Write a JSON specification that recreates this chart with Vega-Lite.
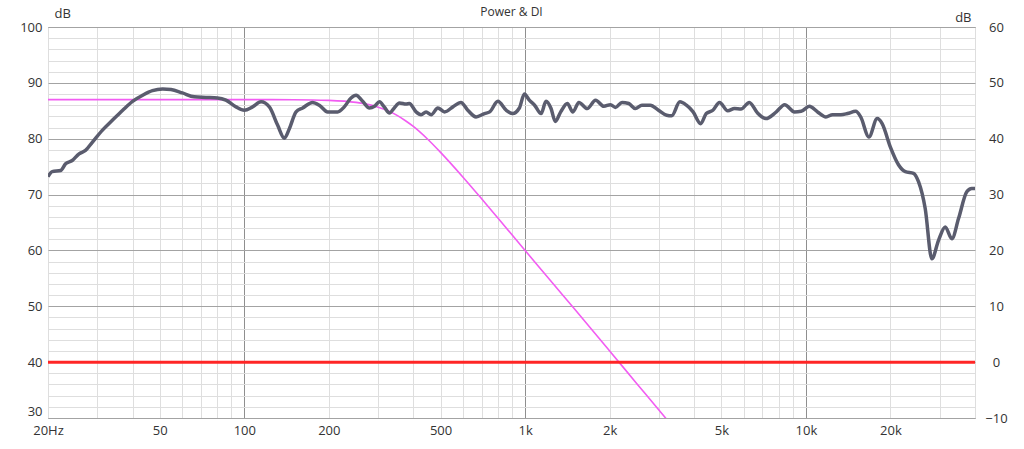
{
  "$schema": "https://vega.github.io/schema/vega-lite/v6.json",
  "width": 927,
  "height": 391,
  "autosize": {"type": "none"},
  "padding": {"left": 48, "top": 27, "right": 49, "bottom": 31},
  "background": "white",
  "title": {
    "text": "Power & DI",
    "anchor": "middle",
    "offset": -12,
    "fontSize": 12,
    "fontWeight": "normal",
    "font": "Open Sans",
    "color": "#333333"
  },
  "datasets": {
    "power": [
      {"f": 20, "db": 73.2}, {"f": 20.7, "db": 74.1}, {"f": 22.2, "db": 74.3}, {"f": 23.1, "db": 75.5},
      {"f": 24.4, "db": 76.1}, {"f": 25.8, "db": 77.3}, {"f": 27.2, "db": 77.9}, {"f": 28.8, "db": 79.4},
      {"f": 31.2, "db": 81.5}, {"f": 33.9, "db": 83.3}, {"f": 36.9, "db": 85.1}, {"f": 40, "db": 86.7},
      {"f": 43.5, "db": 87.8}, {"f": 47.1, "db": 88.6}, {"f": 51.2, "db": 88.9}, {"f": 54.8, "db": 88.8},
      {"f": 60.2, "db": 88.2}, {"f": 66.3, "db": 87.5}, {"f": 73, "db": 87.4}, {"f": 80.3, "db": 87.3},
      {"f": 86, "db": 86.9}, {"f": 93.4, "db": 85.7}, {"f": 100, "db": 85.1}, {"f": 107, "db": 85.7},
      {"f": 114.7, "db": 86.6}, {"f": 122.8, "db": 85.7}, {"f": 131.5, "db": 82.4}, {"f": 138.9, "db": 80.1},
      {"f": 144.7, "db": 81.8}, {"f": 152.9, "db": 84.8}, {"f": 161.4, "db": 85.5}, {"f": 175, "db": 86.5},
      {"f": 185, "db": 86.0}, {"f": 198, "db": 84.8}, {"f": 215, "db": 84.8}, {"f": 227, "db": 85.7},
      {"f": 240, "db": 87.3}, {"f": 250, "db": 87.8}, {"f": 264, "db": 86.7}, {"f": 279, "db": 85.5},
      {"f": 291, "db": 85.8}, {"f": 303, "db": 86.6}, {"f": 315, "db": 85.7}, {"f": 329, "db": 84.6},
      {"f": 342, "db": 85.5}, {"f": 357, "db": 86.4}, {"f": 377, "db": 86.2}, {"f": 387, "db": 86.3},
      {"f": 409, "db": 84.8}, {"f": 426, "db": 84.3}, {"f": 444, "db": 84.8}, {"f": 463, "db": 84.3},
      {"f": 489, "db": 85.5}, {"f": 517, "db": 84.8}, {"f": 553, "db": 85.7}, {"f": 591, "db": 86.5},
      {"f": 625, "db": 85.1}, {"f": 669, "db": 83.9}, {"f": 717, "db": 84.5}, {"f": 748, "db": 84.8},
      {"f": 800, "db": 86.7}, {"f": 856, "db": 85.1}, {"f": 903, "db": 84.5}, {"f": 954, "db": 85.5},
      {"f": 994, "db": 88.0}, {"f": 1035, "db": 86.9}, {"f": 1081, "db": 86.0}, {"f": 1140, "db": 84.5},
      {"f": 1187, "db": 86.7}, {"f": 1237, "db": 85.4}, {"f": 1280, "db": 83.1}, {"f": 1339, "db": 84.8},
      {"f": 1413, "db": 86.3}, {"f": 1480, "db": 84.8}, {"f": 1554, "db": 86.5}, {"f": 1664, "db": 85.4},
      {"f": 1782, "db": 86.9}, {"f": 1907, "db": 85.8}, {"f": 2014, "db": 86.1}, {"f": 2097, "db": 85.6},
      {"f": 2214, "db": 86.5}, {"f": 2338, "db": 86.3}, {"f": 2469, "db": 85.4}, {"f": 2607, "db": 86.0},
      {"f": 2792, "db": 86.0}, {"f": 2985, "db": 85.1}, {"f": 3192, "db": 84.2}, {"f": 3325, "db": 84.1},
      {"f": 3558, "db": 86.6}, {"f": 3754, "db": 86.0}, {"f": 3965, "db": 84.8}, {"f": 4218, "db": 82.7},
      {"f": 4416, "db": 84.5}, {"f": 4663, "db": 85.1}, {"f": 4924, "db": 86.5}, {"f": 5268, "db": 85.0},
      {"f": 5567, "db": 85.4}, {"f": 5872, "db": 85.3}, {"f": 6286, "db": 86.5}, {"f": 6725, "db": 84.6},
      {"f": 7195, "db": 83.6}, {"f": 7845, "db": 84.8}, {"f": 8399, "db": 86.1}, {"f": 9104, "db": 84.8},
      {"f": 9613, "db": 84.9}, {"f": 10286, "db": 85.8}, {"f": 11003, "db": 84.8}, {"f": 11787, "db": 83.9},
      {"f": 12441, "db": 84.3}, {"f": 13316, "db": 84.3}, {"f": 14051, "db": 84.5}, {"f": 15041, "db": 84.9},
      {"f": 15668, "db": 83.9}, {"f": 16764, "db": 80.3}, {"f": 17935, "db": 83.6}, {"f": 18680, "db": 82.7},
      {"f": 19987, "db": 78.5}, {"f": 21385, "db": 75.3}, {"f": 22590, "db": 74.1}, {"f": 24170, "db": 73.8},
      {"f": 25170, "db": 72.3}, {"f": 26590, "db": 67.5}, {"f": 28080, "db": 58.5}, {"f": 29660, "db": 61.8},
      {"f": 31330, "db": 64.2}, {"f": 33090, "db": 62.1}, {"f": 34950, "db": 65.7}, {"f": 37390, "db": 70.5},
      {"f": 38930, "db": 71.1}, {"f": 40000, "db": 71.1}
    ],
    "target": [
      {"f": 20, "db": 87}, {"f": 100, "db": 87}, {"f": 150, "db": 86.98}, {"f": 200, "db": 86.86},
      {"f": 250, "db": 86.5}, {"f": 275, "db": 86.15}, {"f": 300, "db": 85.65}, {"f": 325, "db": 84.99},
      {"f": 350, "db": 84.17}, {"f": 375, "db": 83.22}, {"f": 400, "db": 82.2}, {"f": 450, "db": 79.9},
      {"f": 500, "db": 77.55}, {"f": 600, "db": 73.15}, {"f": 700, "db": 69.24}, {"f": 800, "db": 65.8},
      {"f": 1000, "db": 60.0}, {"f": 1250, "db": 54.2}, {"f": 1500, "db": 49.5}, {"f": 2000, "db": 42.0},
      {"f": 2500, "db": 36.15}, {"f": 3000, "db": 31.4}, {"f": 3200, "db": 29.7}
    ],
    "di": [
      {"f": 20, "di": 0}, {"f": 40000, "di": 0}
    ]
  },
  "encoding": {
    "x": {
      "field": "f",
      "type": "quantitative",
      "scale": {"type": "log", "domain": [20, 40000], "nice": false},
      "axis": {
        "title": null,
        "values": [20, 30, 40, 50, 60, 70, 80, 90, 100, 200, 300, 400, 500, 600, 700, 800, 900, 1000, 2000, 3000, 4000, 5000, 6000, 7000, 8000, 9000, 10000, 20000, 30000, 40000],
        "labelExpr": "datum.value == 20 ? '20Hz' : indexof([50, 100, 200, 500], datum.value) >= 0 ? '' + datum.value : indexof([1000, 2000, 5000, 10000, 20000], datum.value) >= 0 ? (datum.value / 1000) + 'k' : ''",
        "grid": true,
        "gridColor": {"condition": {"test": "indexof([100, 1000, 10000], datum.value) >= 0", "value": "#8f8f8f"}, "value": "#dedede"},
        "labelPadding": 6
      }
    }
  },
  "layer": [
    {
      "encoding": {
        "y": {
          "field": "db",
          "type": "quantitative",
          "scale": {"domain": [30, 100], "nice": false, "zero": false},
          "axis": {
            "orient": "left",
            "title": "dB",
            "titleAngle": 0,
            "titleAlign": "left",
            "titleBaseline": "alphabetic",
            "titleX": 6,
            "titleY": -10,
            "values": [30, 32, 34, 36, 38, 40, 42, 44, 46, 48, 50, 52, 54, 56, 58, 60, 62, 64, 66, 68, 70, 72, 74, 76, 78, 80, 82, 84, 86, 88, 90, 92, 94, 96, 98, 100],
            "labelExpr": "datum.value % 10 == 0 ? '' + datum.value : ''",
            "labelBaseline": {"condition": {"test": "datum.value == 30", "value": "bottom"}, "value": "middle"},
            "grid": true,
            "gridColor": {"condition": {"test": "datum.value % 10 == 0", "value": "#a3a3a3"}, "value": "#dedede"},
            "labelPadding": 6
          }
        }
      },
      "layer": [
        {
          "data": {"name": "target"},
          "mark": {"type": "line", "color": "#f25cf2", "strokeWidth": 1.6, "interpolate": "monotone", "clip": true}
        },
        {
          "data": {"name": "power"},
          "mark": {"type": "line", "color": "#5a5c6e", "strokeWidth": 3.5, "interpolate": "monotone", "strokeJoin": "round", "clip": true}
        }
      ]
    },
    {
      "data": {"name": "di"},
      "mark": {"type": "line", "color": "#ff2626", "strokeWidth": 3},
      "encoding": {
        "y": {
          "field": "di",
          "type": "quantitative",
          "scale": {"domain": [-10, 60], "nice": false, "zero": false},
          "axis": {
            "orient": "right",
            "title": "dB",
            "titleAngle": 0,
            "titleAlign": "right",
            "titleBaseline": "alphabetic",
            "titleX": -4,
            "titleY": -6,
            "values": [-10, 0, 10, 20, 30, 40, 50, 60],
            "grid": false,
            "labelAlign": "center",
            "labelPadding": 21
          }
        }
      }
    }
  ],
  "resolve": {"scale": {"y": "independent"}, "axis": {"y": "independent"}},
  "config": {
    "view": {"stroke": "#8a8a8a", "strokeWidth": 1},
    "axis": {
      "domain": false,
      "ticks": false,
      "tickSize": 0,
      "labelFont": "Open Sans",
      "labelFontSize": 13,
      "labelColor": "#333333",
      "labelOverlap": false,
      "labelBound": false,
      "labelFlush": false,
      "titleFont": "Open Sans",
      "titleFontSize": 13,
      "titleFontWeight": "normal",
      "titleColor": "#333333",
      "gridWidth": 1
    }
  }
}
